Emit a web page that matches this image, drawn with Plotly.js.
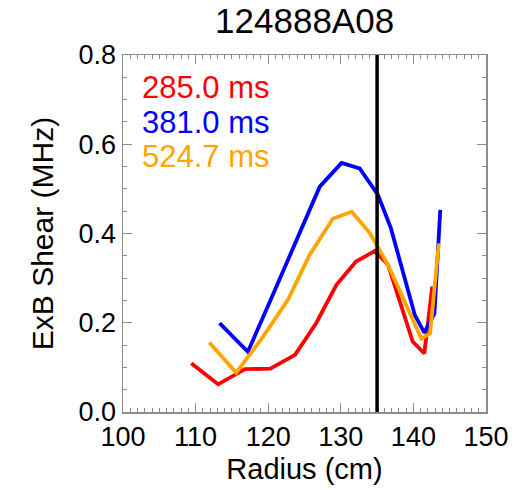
<!DOCTYPE html>
<html>
<head>
<meta charset="utf-8">
<script src="https://cdn.plot.ly/plotly-3.0.1.min.js"></script>
<style>html,body{margin:0;padding:0;background:#fff;}#plot{width:527px;height:490px;}</style>
</head>
<body>
<div id="plot"></div>
<script>
// Data
const redX = [109.4, 113.1, 116.8, 120.3, 123.7, 126.6, 129.4, 132.1, 134.7, 136.5, 139.9, 141.5, 142.6];
const redY = [0.109, 0.062, 0.096, 0.097, 0.128, 0.199, 0.285, 0.337, 0.361, 0.330, 0.158, 0.131, 0.281];
const blueX = [113.3, 117.2, 120.3, 123.7, 127.1, 130.1, 132.6, 135.1, 136.9, 140.2, 141.5, 142.9, 143.7];
const blueY = [0.199, 0.135, 0.250, 0.378, 0.505, 0.558, 0.546, 0.487, 0.412, 0.217, 0.178, 0.221, 0.453];
const orangeX = [111.9, 115.6, 119.3, 122.7, 125.7, 128.9, 131.5, 134.0, 136.5, 141.1, 142.3, 143.5];
const orangeY = [0.156, 0.088, 0.169, 0.251, 0.352, 0.433, 0.449, 0.401, 0.330, 0.164, 0.176, 0.378];
const seriesNames = ["285.0 ms", "381.0 ms", "524.7 ms"];
const seriesColors = ["#ff0000", "#0000ff", "#ffa500"];
const markerRadius = 135.0;
const chartTitle = "124888A08";
const xTitle = "Radius (cm)";
const yTitle = "ExB Shear (MHz)";
const xRange = [100, 150];
const yRange = [0, 0.8];

const font = "Liberation Sans, Arial, Helvetica, sans-serif";
const xs = [redX, blueX, orangeX];
const ys = [redY, blueY, orangeY];
const traces = xs.map((x, i) => ({
  x: x, y: ys[i], type: "scatter", mode: "lines",
  line: {color: seriesColors[i], width: 3.8}, name: seriesNames[i], showlegend: false
}));

const legendY = [0.908, 0.812, 0.717];
const annotations = seriesNames.map((t, i) => ({
  text: t, xref: "paper", yref: "paper", x: 0.048, y: legendY[i],
  xanchor: "left", yanchor: "middle", showarrow: false,
  font: {family: font, size: 31, color: seriesColors[i]}
}));

const axisCommon = {
  showline: true, linecolor: "#8c8c8c", linewidth: 1.5, mirror: "ticks",
  ticks: "inside", ticklen: 9, tickwidth: 1.2, tickcolor: "#8c8c8c",
  showgrid: false, zeroline: false,
  tickfont: {family: font, size: 27, color: "#000"}
};

const layout = {
  width: 527, height: 490,
  margin: {l: 123, r: 41, t: 55, b: 78},
  paper_bgcolor: "#fff", plot_bgcolor: "#fff",
  title: {text: chartTitle, font: {family: font, size: 35, color: "#000"}, x: 0.578, xanchor: "center", y: 0.958, yanchor: "middle"},
  xaxis: Object.assign({}, axisCommon, {
    range: xRange, dtick: 10, tick0: 100,
    minor: {dtick: 1, ticks: "inside", ticklen: 4, tickcolor: "#8c8c8c", tickwidth: 1},
    title: {text: xTitle, font: {family: font, size: 29, color: "#000"}, standoff: 8}
  }),
  yaxis: Object.assign({}, axisCommon, {
    range: yRange, dtick: 0.2, tick0: 0, tickformat: ".1f",
    minor: {dtick: 0.05, ticks: "inside", ticklen: 4, tickcolor: "#8c8c8c", tickwidth: 1},
    title: {text: yTitle, font: {family: font, size: 30, color: "#000"}, standoff: 16}
  }),
  shapes: [{type: "line", xref: "x", yref: "paper", x0: markerRadius, x1: markerRadius, y0: 0, y1: 1,
    line: {color: "#000", width: 3.5}}],
  annotations: annotations
};

Plotly.newPlot("plot", traces, layout, {displayModeBar: false, staticPlot: true});
</script>
</body>
</html>
